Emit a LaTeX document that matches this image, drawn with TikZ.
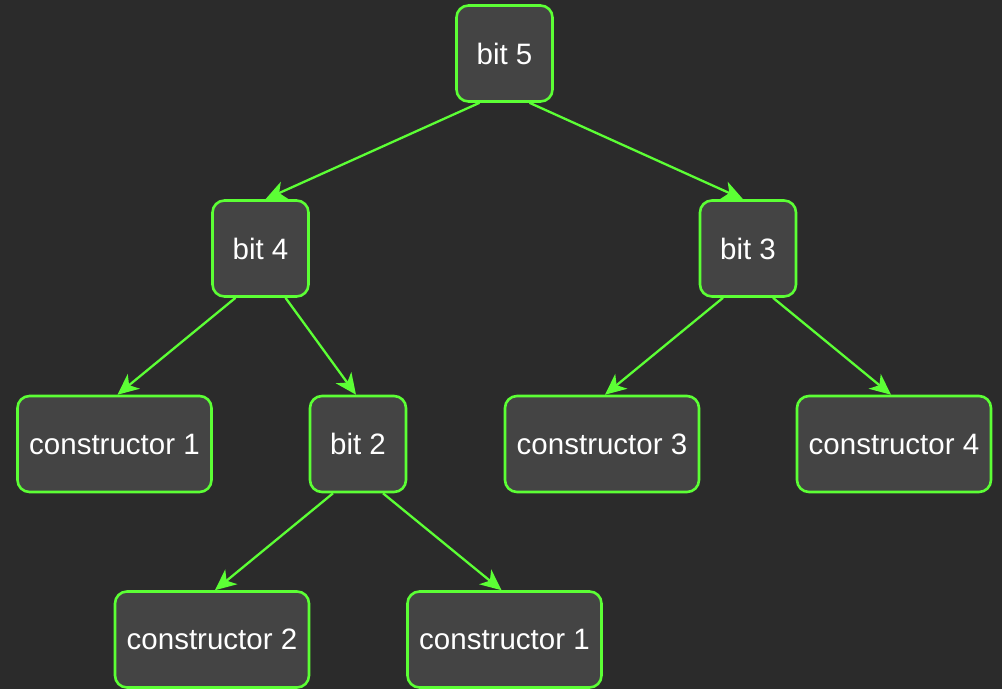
\documentclass[tikz,border=0pt]{standalone}
\usepackage{fontspec}
\setmainfont{Liberation Sans}
\usetikzlibrary{arrows.meta}
\definecolor{bgdark}{HTML}{2B2B2B}
\definecolor{boxfill}{HTML}{444444}
\definecolor{lime}{HTML}{5CFF35}
\tikzset{
  box/.style={draw=lime, fill=boxfill, line width=2.6pt, rounded corners=12pt,
    minimum height=96pt, text=white, font=\fontsize{29.5}{35}\selectfont, inner sep=0pt},
  bitbox/.style={box, minimum width=96pt},
  ctorbox/.style={box, minimum width=194pt},
  link/.style={draw=lime, line width=2.3pt,
    -{Stealth[length=21pt, width=19pt, inset=6pt]}}
}
\begin{document}
\begin{tikzpicture}[x=1pt, y=-1pt]
  \fill[bgdark] (0,0) rectangle (1002,689);
  \useasboundingbox (0,0) rectangle (1002,689);

  \node[bitbox] (b5) at (504.5,53.5) {bit 5};
  \node[bitbox] (b4) at (260.5,248.5) {bit 4};
  \node[bitbox] (b3) at (748,248.5) {bit 3};
  \node[ctorbox] (c1) at (114.5,444) {constructor 1};
  \node[bitbox] (b2) at (358,444) {bit 2};
  \node[ctorbox] (c3) at (602,444) {constructor 3};
  \node[ctorbox] (c4) at (894,444) {constructor 4};
  \node[ctorbox] (c2) at (212,639.5) {constructor 2};
  \node[ctorbox] (c1b) at (504.5,639.5) {constructor 1};

  \draw[link] ([xshift=-25pt]b5.south) -- ([xshift=5pt]b4.north);
  \draw[link] ([xshift=25pt]b5.south) -- ([xshift=-5pt]b3.north);
  \draw[link] ([xshift=-25pt]b4.south) -- ([xshift=3pt]c1.north);
  \draw[link] ([xshift=25pt]b4.south) -- ([xshift=-2pt]b2.north);
  \draw[link] ([xshift=-25pt]b3.south) -- ([xshift=3pt]c3.north);
  \draw[link] ([xshift=25pt]b3.south) -- ([xshift=-3pt]c4.north);
  \draw[link] ([xshift=-25pt]b2.south) -- ([xshift=3pt]c2.north);
  \draw[link] ([xshift=25pt]b2.south) -- ([xshift=-3pt]c1b.north);
\end{tikzpicture}
\end{document}
